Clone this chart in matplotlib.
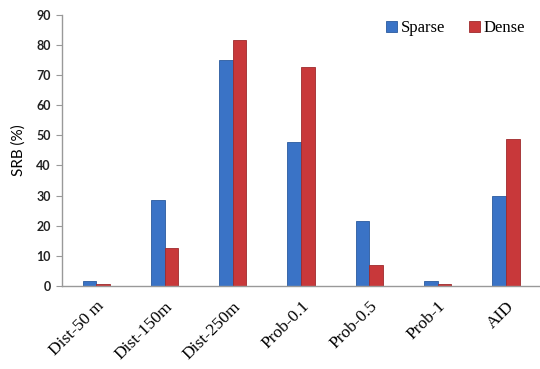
import matplotlib
matplotlib.use("Agg")
import matplotlib.pyplot as plt
import numpy as np

categories = ["Dist-50 m", "Dist-150m", "Dist-250m", "Prob-0.1", "Prob-0.5", "Prob-1", "AID"]
sparse = [1.8, 28.5, 75.0, 47.7, 21.5, 1.7, 30.0]
dense = [0.8, 12.6, 81.5, 72.7, 6.8, 0.8, 48.8]
yticks = [0, 10, 20, 30, 40, 50, 60, 70, 80, 90]

fig = plt.figure(figsize=(5.4, 3.69), dpi=100)
ax = fig.add_axes([0.115, 0.225, 0.885, 0.735])

x = np.arange(len(categories))
w = 0.2
ax.bar(x - w / 2, sparse, w, color="#3a73c6", edgecolor="#2a5a9e", linewidth=0.6, label="Sparse")
ax.bar(x + w / 2, dense, w, color="#c8383a", edgecolor="#9e2a2c", linewidth=0.6, label="Dense")

ax.set_xlim(-0.5, len(categories) - 0.5)
ax.set_ylim(0, 90)
ax.set_yticks(yticks)
ax.set_yticklabels([str(t) for t in yticks], fontfamily="Lato", fontweight="bold", fontsize=9, color="#222222")
ax.set_xticks(x)
ax.set_xticklabels(categories, rotation=45, ha="right", rotation_mode="anchor",
                   fontfamily="Liberation Serif", fontsize=12.5)
ax.tick_params(axis="x", length=0, pad=9)
ax.tick_params(axis="y", length=4, color="#999999", pad=4)
ax.set_ylabel("SRB (%)", fontfamily="Lato", fontsize=11, labelpad=8)

for s in ["top", "right"]:
    ax.spines[s].set_visible(False)
for s in ["left", "bottom"]:
    ax.spines[s].set_color("#999999")
    ax.spines[s].set_linewidth(1.0)

ax.legend(loc="upper right", bbox_to_anchor=(1.0, 1.035), ncol=2, frameon=False,
          prop={"family": "Liberation Serif", "size": 12}, handlelength=0.7,
          handleheight=0.7, handletextpad=0.2, columnspacing=1.4)

fig.savefig("out.png", dpi=100)
